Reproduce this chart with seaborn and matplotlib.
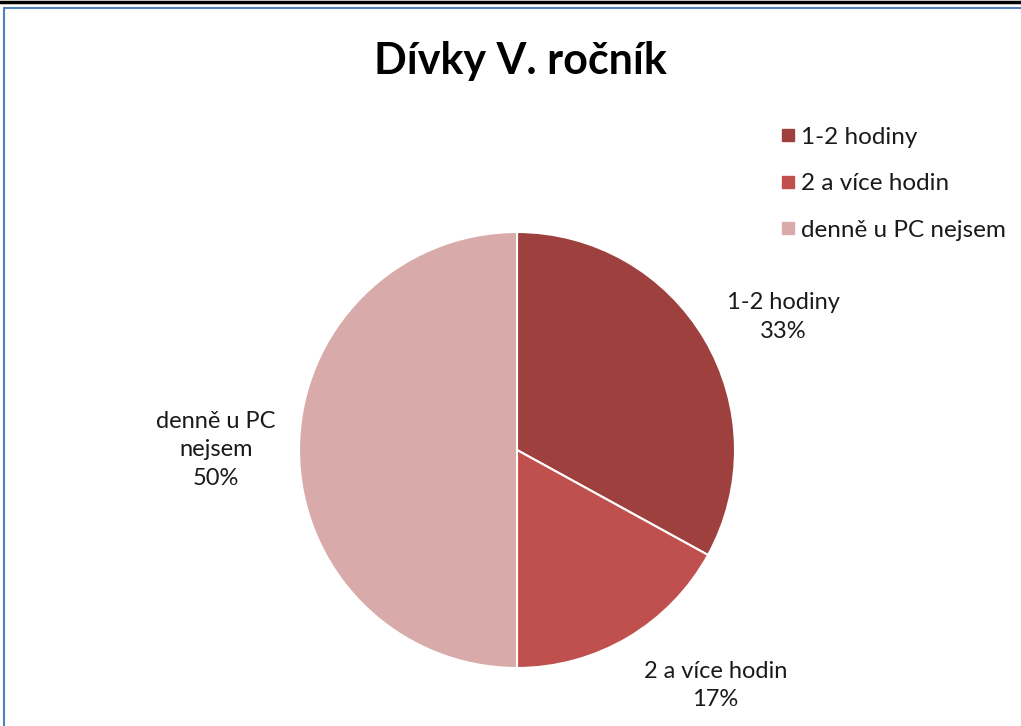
import matplotlib
matplotlib.use("Agg")
import matplotlib.pyplot as plt
from matplotlib.lines import Line2D
import seaborn as sns

sns.set_theme(style="white")
plt.rcParams['font.family'] = ['Lato', 'DejaVu Sans']

categories = ["1-2 hodiny", "2 a více hodin", "denně u PC nejsem"]
values = [33, 17, 50]
label_texts = ["1-2 hodiny\n33%", "2 a více hodin\n17%", "denně u PC\nnejsem\n50%"]
colors = ["#9E413E", "#C0504D", "#D9AAAA"]
title = "Dívky V. ročník"

W, H = 1021, 726
fig = plt.figure(figsize=(W / 100, H / 100), dpi=100)
fig.patch.set_facecolor("white")

cx, cy, r = 517, 450, 218
ax = fig.add_axes([(cx - r) / W, (H - cy - r) / H, 2 * r / W, 2 * r / H])
wedges, texts = ax.pie(values, colors=colors, startangle=90, counterclock=False,
                       labels=label_texts, labeldistance=1.3,
                       wedgeprops=dict(edgecolor="white", linewidth=1.5),
                       textprops=dict(fontsize=17, color="#1a1a1a", linespacing=1.45))
label_pos = [(1.22, 0.61), (0.91, -1.08), (-1.38, 0.0)]
for t, p in zip(texts, label_pos):
    t.set_position(p)
    t.set_ha("center")
    t.set_va("center")
ax.set_xlim(-1, 1)
ax.set_ylim(-1, 1)
ax.set_aspect("equal")

fig.text(520 / W, 1 - 61 / H, title, ha="center", va="center",
         fontsize=31, fontweight="bold", color="black")

handles = [Line2D([], [], marker="s", linestyle="none", markersize=9,
                  markerfacecolor=c, markeredgecolor=c) for c in colors]
fig.legend(handles, categories, loc="upper left",
           bbox_to_anchor=(772 / W, 1 - 117 / H), frameon=False,
           fontsize=17.5, handlelength=0.5, handletextpad=0.3,
           labelspacing=1.05, borderaxespad=0, labelcolor="#1a1a1a")

# borders
fig.add_artist(Line2D([0, 1], [1 - 1.5 / H, 1 - 1.5 / H], color="black", linewidth=2.5,
                      transform=fig.transFigure))
fig.add_artist(Line2D([4 / W, 1], [1 - 8 / H, 1 - 8 / H], color="#4F81BD", linewidth=1.5,
                      transform=fig.transFigure))
fig.add_artist(Line2D([4 / W, 4 / W], [0, 1 - 8 / H], color="#4F81BD", linewidth=1.5,
                      transform=fig.transFigure))

fig.savefig("out.png", dpi=100, facecolor="white")
